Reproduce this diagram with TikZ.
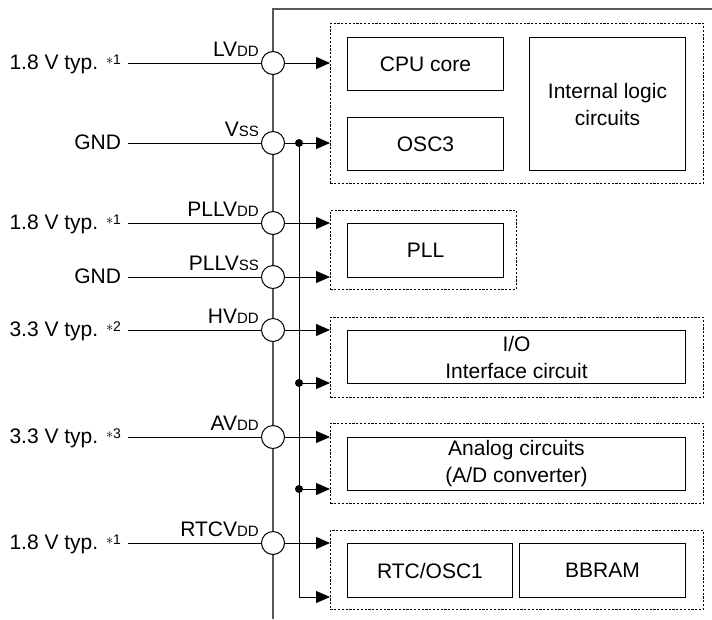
\documentclass[tikz,border=0pt]{standalone}
\usepackage{fontspec}
\setmainfont{Liberation Sans}
\usepackage{tikz}
\usetikzlibrary{arrows.meta,positioning}
\newcommand{\pinsub}[1]{{\fontsize{15}{15}\selectfont #1}}
\newcommand{\fnmark}[1]{\raisebox{5pt}{\fontsize{14}{14}\selectfont$\ast$#1}}

\begin{document}
\begin{tikzpicture}[x=1pt,y=-1pt,
    font=\fontsize{21}{27}\selectfont,
    padcirc/.style={circle, draw, fill=white, line width=1pt, minimum size=23pt, inner sep=0pt},
    blk/.style={draw, line width=1pt, inner sep=0pt, anchor=north west, align=center},
    grp/.style={draw, line width=0.8pt, dash pattern=on 2.2pt off 1.6pt, inner sep=0pt, anchor=north west},
    supply/.style={anchor=base east, inner sep=0pt, outer xsep=7pt},
    pinlbl/.style={anchor=base east, inner sep=0pt},
    wire/.style={line width=1pt},
    feed/.style={line width=1pt, -{Triangle[length=14pt,width=12pt]}},
    joint/.style={circle, fill, minimum size=8pt, inner sep=0pt},
    chip/.style={line width=1.2pt, black!65}]
  \useasboundingbox (0,0) rectangle (712,619);
  % Chip outline
  \draw[chip] (273,619) -- (273,9) -- (712,9);
  % Dashed power domains
  \node[grp, minimum width=373pt, minimum height=160pt] (grpCore) at (330,23) {};
  \node[grp, minimum width=186pt, minimum height=79pt] (grpPll) at (330,210) {};
  \node[grp, minimum width=373pt, minimum height=80pt] (grpIo) at (330,317) {};
  \node[grp, minimum width=373pt, minimum height=80pt] (grpAn) at (330,423) {};
  \node[grp, minimum width=373pt, minimum height=79pt] (grpRtc) at (330,530) {};
  % Circuit blocks
  \node[blk, minimum width=156pt, minimum height=53pt] (cpu) at (347,37) {CPU core};
  \node[blk, minimum width=156pt, minimum height=53pt] (osc) at (347,117) {OSC3};
  \node[blk, minimum width=156pt, minimum height=133pt] (logic) at (529,37) {Internal logic\\circuits};
  \node[blk, minimum width=156pt, minimum height=54pt] (pll) at (347,223) {PLL};
  \node[blk, minimum width=338pt, minimum height=53pt] (io) at (347,330) {I/O\\Interface circuit};
  \node[blk, minimum width=338pt, minimum height=53pt] (adc) at (347,437) {Analog circuits\\(A/D converter)};
  \node[blk, minimum width=165pt, minimum height=54pt] (rtc) at (347,543) {RTC/OSC1};
  \node[blk, minimum width=166pt, minimum height=54pt] (bbram) at (519,543) {BBRAM};
  % Power pins
  \node[padcirc] (pLv) at (273,63) {};
  \node[padcirc] (pVss) at (273,143) {};
  \node[padcirc] (pPllVdd) at (273,223) {};
  \node[padcirc] (pPllVss) at (273,277) {};
  \node[padcirc] (pHv) at (273,330) {};
  \node[padcirc] (pAv) at (273,437) {};
  \node[padcirc] (pRtc) at (273,543) {};
  % Pin names
  \node[pinlbl] (nLv) at (259,56.5) {LV\pinsub{DD}};
  \node[pinlbl] (nVss) at (259,136.5) {V\pinsub{SS}};
  \node[pinlbl] (nPllVdd) at (259,216.5) {PLLV\pinsub{DD}};
  \node[pinlbl] (nPllVss) at (259,270.5) {PLLV\pinsub{SS}};
  \node[pinlbl] (nHv) at (259,323.5) {HV\pinsub{DD}};
  \node[pinlbl] (nAv) at (259,430.5) {AV\pinsub{DD}};
  \node[pinlbl] (nRtc) at (259,536.5) {RTCV\pinsub{DD}};
  % Supply voltages
  \node[supply] (sLv) at (128,69.5) {1.8 V typ. \fnmark{1}};
  \node[supply] (sVss) at (128,149.5) {GND};
  \node[supply] (sPllVdd) at (128,229.5) {1.8 V typ. \fnmark{1}};
  \node[supply] (sPllVss) at (128,283.5) {GND};
  \node[supply] (sHv) at (128,336.5) {3.3 V typ. \fnmark{2}};
  \node[supply] (sAv) at (128,443.5) {3.3 V typ. \fnmark{3}};
  \node[supply] (sRtc) at (128,549.5) {1.8 V typ. \fnmark{1}};
  \foreach \p/\s in {pLv/sLv, pVss/sVss, pPllVdd/sPllVdd, pPllVss/sPllVss, pHv/sHv, pAv/sAv, pRtc/sRtc}
    \draw[wire] (\p.west) -- (\p.west -| \s.east);
  % Feeds into the domains
  \draw[feed] (pLv.east) -- (pLv.east -| grpCore.west);
  \draw[feed] (pVss.east) -- (pVss.east -| grpCore.west);
  \draw[feed] (pPllVdd.east) -- (pPllVdd.east -| grpPll.west);
  \draw[feed] (pPllVss.east) -- (pPllVss.east -| grpPll.west);
  \draw[feed] (pHv.east) -- (pHv.east -| grpIo.west);
  \draw[feed] (pAv.east) -- (pAv.east -| grpAn.west);
  \draw[feed] (pRtc.east) -- (pRtc.east -| grpRtc.west);
  % Shared Vss bus
  \node[joint] (jVss) at (299,143) {};
  \node[joint] (jIo) at (299,383) {};
  \node[joint] (jAn) at (299,489) {};
  \coordinate (jRtc) at (299,597);
  \draw[wire] (jVss.center) -- (jRtc);
  \draw[feed] (jIo.center) -- (jIo -| grpIo.west);
  \draw[feed] (jAn.center) -- (jAn -| grpAn.west);
  \draw[feed] (jRtc) -- (jRtc -| grpRtc.west);
\end{tikzpicture}
\end{document}
